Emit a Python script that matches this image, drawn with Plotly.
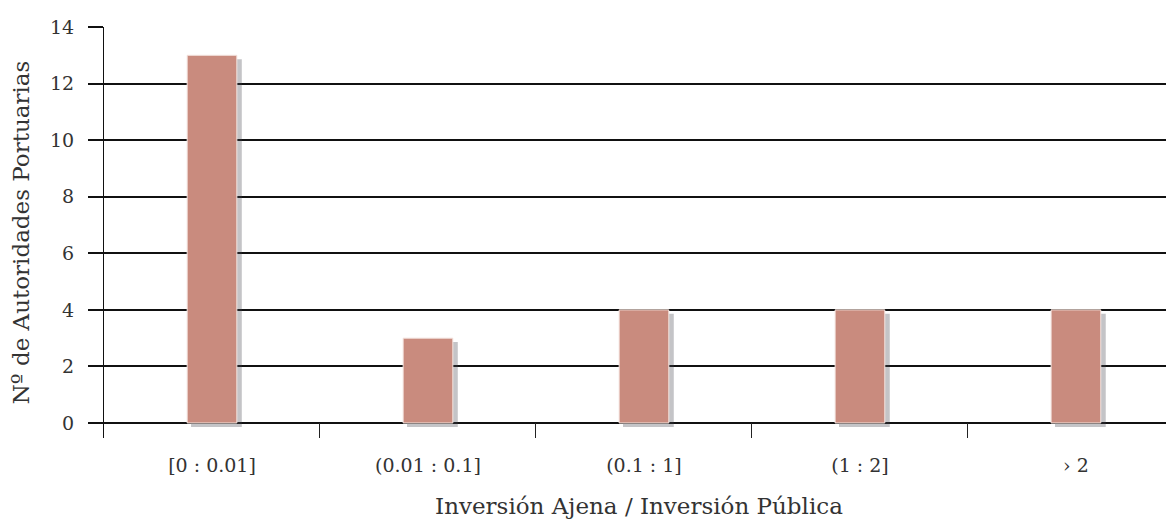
import plotly.graph_objects as go

categories = ["[0 : 0.01]", "(0.01 : 0.1]", "(0.1 : 1]", "(1 : 2]", "› 2"]
values = [13, 3, 4, 4, 4]
y_ticks = [0, 2, 4, 6, 8, 10, 12, 14]

FONT = "DejaVu Serif"
fig = go.Figure()

# soft shadow of bars (drawn from the same data, offset right and down)
fig.add_trace(go.Bar(
    x=categories, y=values, base=-0.14, width=0.235, offset=-0.097,
    marker=dict(color="rgba(70,70,80,0.32)", line=dict(width=0)),
    hoverinfo="skip", showlegend=False,
))
fig.add_trace(go.Bar(
    x=categories, y=values, width=0.23, offset=-0.115,
    marker=dict(color="#c98b7e", line=dict(color="#f4e4df", width=1)),
    showlegend=False,
))

fig.update_layout(
    width=1174, height=523,
    margin=dict(l=96, r=8, t=19, b=93),
    paper_bgcolor="white", plot_bgcolor="white",
    barmode="overlay",
    font=dict(family=FONT, size=19, color="#333"),
    xaxis=dict(
        type="category",
        range=[-0.5, 4.454],
        ticks="inside", tickson="boundaries", ticklen=15, tickwidth=1, tickcolor="#222",
        showgrid=False, showline=False, zeroline=False,
        automargin=False,
        ticklabelstandoff=14,
        tickfont=dict(size=19),
        title=dict(text="Inversión Ajena / Inversión Pública", standoff=22, font=dict(size=23)),
    ),
    yaxis=dict(
        range=[-0.53, 14], tickvals=y_ticks,
        ticks="outside", ticklen=15, tickwidth=2, tickcolor="#111",
        showgrid=True, gridcolor="#111", gridwidth=2,
        zeroline=True, zerolinecolor="#111", zerolinewidth=2,
        showline=True, linecolor="#111", linewidth=1,
        automargin=False,
        ticklabelstandoff=10,
        tickfont=dict(size=19),
        title=dict(text="Nº de Autoridades Portuarias", standoff=18, font=dict(size=23)),
    ),
)

fig.write_html("out.html")
